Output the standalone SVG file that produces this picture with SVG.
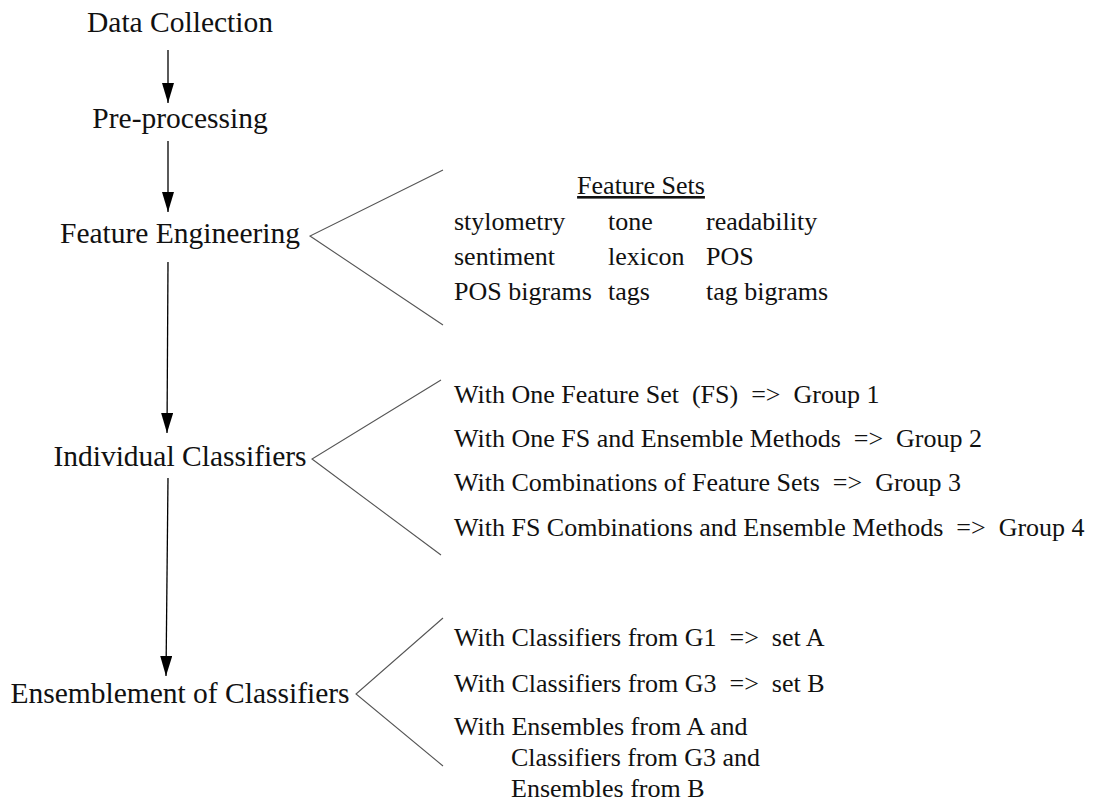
<svg xmlns="http://www.w3.org/2000/svg" width="1098" height="801" viewBox="0 0 1098 801">
<defs>
<marker id="arr" markerWidth="20" markerHeight="12" refX="20" refY="6" orient="auto" markerUnits="userSpaceOnUse" viewBox="0 0 20 12">
<path d="M0,0 L20,6 L0,12 Z" fill="#000"/>
</marker>
<style>
text{font-family:"Liberation Serif","Times New Roman",serif;fill:#111;white-space:pre}
.main{font-size:29.5px}
.sub{font-size:26px}
.arrow{stroke:#000;stroke-width:1.3;fill:none}
.brace{stroke:#555;stroke-width:1.1;fill:none}
</style>
</defs>
<rect width="1098" height="801" fill="#fff"/>
<g id="connectors">
<line class="arrow" x1="168" y1="50" x2="168" y2="103" marker-end="url(#arr)"/>
<line class="arrow" x1="168" y1="141" x2="168" y2="212" marker-end="url(#arr)"/>
<line class="arrow" x1="168" y1="262" x2="167" y2="433" marker-end="url(#arr)"/>
<line class="arrow" x1="168" y1="478" x2="166" y2="676" marker-end="url(#arr)"/>
<polyline class="brace" points="443,170 310,236 443,325"/>
<polyline class="brace" points="441,380 312,459 441,555"/>
<polyline class="brace" points="443,618 356,694 443,766"/>
</g>
<g id="data-collection"><text class="main" x="180" y="32" text-anchor="middle">Data Collection</text></g>
<g id="pre-processing"><text class="main" x="180" y="128" text-anchor="middle">Pre-processing</text></g>
<g id="feature-engineering"><text class="main" x="180" y="243" text-anchor="middle">Feature Engineering</text></g>
<g id="individual-classifiers"><text class="main" x="180" y="466" text-anchor="middle">Individual Classifiers</text></g>
<g id="ensemblement"><text class="main" x="180" y="703" text-anchor="middle">Ensemblement of Classifiers</text></g>
<g id="feature-sets">
<text class="sub" x="641" y="194" text-anchor="middle" text-decoration="underline">Feature Sets</text>
<text class="sub" x="454" y="230">stylometry</text>
<text class="sub" x="608" y="230">tone</text>
<text class="sub" x="706" y="230">readability</text>
<text class="sub" x="454" y="265">sentiment</text>
<text class="sub" x="608" y="265">lexicon</text>
<text class="sub" x="706" y="265">POS</text>
<text class="sub" x="454" y="300">POS bigrams</text>
<text class="sub" x="608" y="300">tags</text>
<text class="sub" x="706" y="300">tag bigrams</text>
</g>
<g id="classifier-groups">
<text class="sub" x="454" y="403">With One Feature Set  (FS)  =&gt;  Group 1</text>
<text class="sub" x="454" y="447">With One FS and Ensemble Methods  =&gt;  Group 2</text>
<text class="sub" x="454" y="491">With Combinations of Feature Sets  =&gt;  Group 3</text>
<text class="sub" x="454" y="536">With FS Combinations and Ensemble Methods  =&gt;  Group 4</text>
</g>
<g id="ensemble-sets">
<text class="sub" x="454" y="646">With Classifiers from G1  =&gt;  set A</text>
<text class="sub" x="454" y="692">With Classifiers from G3  =&gt;  set B</text>
<text class="sub" x="454" y="735">With Ensembles from A and</text>
<text class="sub" x="511" y="766">Classifiers from G3 and</text>
<text class="sub" x="511" y="797">Ensembles from B</text>
</g>
</svg>
